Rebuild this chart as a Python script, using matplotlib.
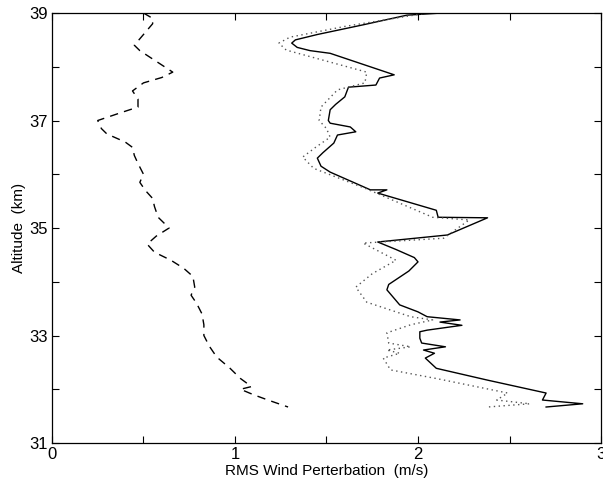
import matplotlib
matplotlib.use("Agg")
import matplotlib.pyplot as plt

# dashed curve
alt_dash = [39.0, 38.9, 38.8, 38.6, 38.4, 38.3, 38.1, 37.9, 37.8, 37.7, 37.55, 37.4,
            37.25, 37.15, 37.0, 36.85, 36.75, 36.6, 36.5, 36.35, 36.2, 36.0, 35.85,
            35.7, 35.55, 35.4, 35.2, 35.0, 34.85, 34.7, 34.55, 34.4, 34.25, 34.1,
            33.9, 33.75, 33.6, 33.4, 33.2, 33.0, 32.8, 32.6, 32.4, 32.2, 32.05,
            32.0, 31.9, 31.8, 31.67]
rms_dash = [0.50, 0.55, 0.55, 0.50, 0.45, 0.48, 0.57, 0.66, 0.60, 0.50, 0.44, 0.47,
            0.47, 0.38, 0.25, 0.27, 0.30, 0.40, 0.44, 0.45, 0.47, 0.50, 0.48,
            0.51, 0.55, 0.56, 0.58, 0.64, 0.57, 0.52, 0.56, 0.65, 0.72, 0.77,
            0.78, 0.76, 0.79, 0.82, 0.83, 0.83, 0.86, 0.90, 0.97, 1.03, 1.09,
            1.03, 1.10, 1.18, 1.29]

# solid curve
alt_solid = [39.0, 38.96, 38.78, 38.6, 38.5, 38.44, 38.36, 38.30, 38.25, 37.85,
             37.79, 37.66, 37.62, 37.44, 37.3, 37.2, 37.0, 36.95, 36.88, 36.79,
             36.73, 36.58, 36.4, 36.30, 36.15, 36.04, 35.80, 35.71, 35.71, 35.65,
             35.33, 35.20, 35.19, 34.87, 34.74, 34.6, 34.45, 34.37, 34.2, 33.95,
             33.85, 33.57, 33.44, 33.35, 33.29, 33.25, 33.19, 33.10, 33.07, 32.95,
             32.86, 32.79, 32.73, 32.67, 32.58, 32.39, 32.17, 31.93, 31.80, 31.73,
             31.67]
rms_solid = [2.13, 1.94, 1.70, 1.45, 1.33, 1.31, 1.34, 1.41, 1.52, 1.87,
             1.79, 1.77, 1.62, 1.60, 1.55, 1.52, 1.51, 1.52, 1.63, 1.66,
             1.56, 1.54, 1.48, 1.45, 1.47, 1.52, 1.68, 1.74, 1.83, 1.78,
             2.10, 2.11, 2.38, 2.16, 1.78, 1.88, 1.98, 2.00, 1.95, 1.84,
             1.83, 1.90, 2.00, 2.05, 2.23, 2.12, 2.24, 2.05, 2.01, 2.01,
             2.02, 2.15, 2.03, 2.09, 2.04, 2.10, 2.38, 2.70, 2.68, 2.90,
             2.70]

# dotted curve
alt_dot = [39.0, 38.75, 38.55, 38.44, 38.31, 37.9, 37.7, 37.57, 37.25, 37.0, 36.85,
           36.69, 36.5, 36.32, 36.11, 35.74, 35.20, 35.15, 34.81, 34.72, 34.40,
           34.15, 33.90, 33.62, 33.35, 33.29, 33.20, 33.05, 32.86, 32.79, 32.73,
           32.67, 32.58, 32.36, 32.2, 31.93, 31.80, 31.73, 31.67]
rms_dot = [2.05, 1.60, 1.30, 1.24, 1.28, 1.72, 1.71, 1.56, 1.47, 1.46, 1.50,
           1.52, 1.44, 1.37, 1.43, 1.71, 2.08, 2.28, 2.14, 1.70, 1.88,
           1.75, 1.66, 1.72, 1.96, 2.08, 1.96, 1.83, 1.84, 1.96, 1.83,
           1.90, 1.81, 1.85, 2.10, 2.49, 2.43, 2.61, 2.38]

x_ticks = [0, 0.5, 1, 1.5, 2, 2.5, 3]
x_labels = ["0", "", "1", "", "2", "", "3"]
y_ticks = [31, 32, 33, 34, 35, 36, 37, 38, 39]
y_labels = ["31", "", "33", "", "35", "", "37", "", "39"]

plt.rcParams['font.family'] = ['Liberation Sans', 'DejaVu Sans']

fig = plt.figure(figsize=(6.03, 4.87), dpi=100)
ax = fig.add_axes([0.0862, 0.0903, 0.9105, 0.883])

ax.plot(rms_dash, alt_dash, color='black', lw=1.0, ls=(0, (6, 4.5)))
ax.plot(rms_solid, alt_solid, color='black', lw=1.0)
ax.plot(rms_dot, alt_dot, color='#555555', lw=1.0, ls=(0, (1, 2.5)))

ax.set_xlim(0, 3)
ax.set_ylim(31, 39)
ax.set_xticks(x_ticks)
ax.set_xticklabels(x_labels)
ax.set_yticks(y_ticks)
ax.set_yticklabels(y_labels)
ax.tick_params(direction='in', length=5, width=0.8, labelsize=12,
               top=True, right=True, pad=3)
for s in ax.spines.values():
    s.set_linewidth(0.9)

ax.set_xlabel("RMS Wind Perterbation  (m/s)", fontsize=11, labelpad=1)
ax.set_ylabel("Altitude  (km)", fontsize=11, labelpad=2)

fig.savefig("out.png", dpi=100)
